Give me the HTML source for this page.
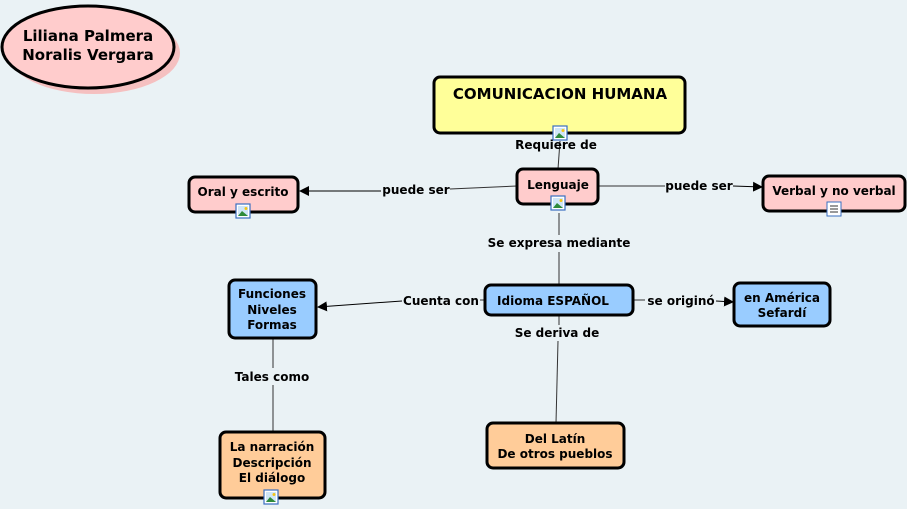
<!DOCTYPE html>
<html><head><meta charset="utf-8"><style>
html,body{margin:0;padding:0;background:#eaf2f5;}
svg{display:block;font-family:"DejaVu Sans","Liberation Sans",sans-serif;font-weight:bold;}
</style></head><body>
<svg width="907" height="509" viewBox="0 0 907 509">
<defs>
<marker id="a" markerWidth="10" markerHeight="10" refX="9" refY="5" orient="auto" markerUnits="userSpaceOnUse"><path d="M0,0 L10,5 L0,10z" fill="#000"/></marker>
<g id="ic"><rect x="0" y="0" width="14" height="14" fill="#fff" stroke="#3a6fc0" stroke-width="1.2"/><rect x="2" y="2" width="10" height="10" fill="#cfe6f7"/><path d="M2,12 L6,7 L12,12z" fill="#2e8b3a"/><circle cx="10" cy="4.5" r="1.5" fill="#f3c317"/></g>
</defs>
<rect width="907" height="509" fill="#eaf2f5"/>
<g stroke="#333" stroke-width="1" fill="none">
<line x1="560" y1="141" x2="558" y2="169"/>
<line x1="517" y1="186" x2="450" y2="189"/>
<line x1="381" y1="191" x2="300" y2="191" stroke="#000" marker-end="url(#a)"/>
<line x1="598" y1="186" x2="665" y2="186"/>
<line x1="733" y1="186" x2="762" y2="187" stroke="#000" marker-end="url(#a)"/>
<line x1="559" y1="213" x2="559" y2="235"/>
<line x1="559" y1="252" x2="559" y2="285"/>
<line x1="485" y1="300" x2="480" y2="300"/>
<line x1="402" y1="301" x2="318" y2="307" stroke="#000" marker-end="url(#a)"/>
<line x1="633" y1="300" x2="645" y2="300"/>
<line x1="716" y1="301" x2="733" y2="302" stroke="#000" marker-end="url(#a)"/>
<line x1="559" y1="316" x2="559" y2="325"/>
<line x1="558" y1="341" x2="556" y2="423"/>
<line x1="273" y1="338" x2="273" y2="368"/>
<line x1="273" y1="385" x2="273" y2="432"/>
</g>
<g stroke="#000" stroke-width="3">
<ellipse cx="94" cy="53" rx="86" ry="41" fill="#f5c0c0" stroke="none"/>
<ellipse cx="88" cy="47" rx="86" ry="41" fill="#ffcccc"/>
<rect x="434" y="77" width="251" height="56" rx="6" fill="#ffff99"/>
<rect x="517" y="169" width="81" height="35" rx="6" fill="#ffcccc"/>
<rect x="189" y="177" width="109" height="35" rx="6" fill="#ffcccc"/>
<rect x="763" y="176" width="142" height="35" rx="6" fill="#ffcccc"/>
<rect x="485" y="285" width="148" height="30" rx="6" fill="#99ccff"/>
<rect x="229" y="280" width="87" height="58" rx="6" fill="#99ccff"/>
<rect x="734" y="283" width="96" height="43" rx="6" fill="#99ccff"/>
<rect x="487" y="423" width="137" height="45" rx="6" fill="#ffcc99"/>
<rect x="220" y="432" width="105" height="66" rx="6" fill="#ffcc99"/>
</g>
<use href="#ic" x="553" y="126"/>
<use href="#ic" x="551" y="196"/>
<use href="#ic" x="236" y="204"/>
<use href="#ic" x="264" y="490"/>
<g transform="translate(827,202)"><rect width="14" height="14" fill="#fff" stroke="#3a6fc0"/><path d="M3,4h8M3,7h8M3,10h8" stroke="#333"/></g>
<g font-size="12" text-anchor="middle" fill="#000">
<text x="88" y="41" font-size="15">Liliana Palmera</text>
<text x="88" y="60" font-size="15">Noralis Vergara</text>
<text x="560" y="99" font-size="15">COMUNICACION HUMANA</text>
<text x="558" y="189">Lenguaje</text>
<text x="243" y="196">Oral y escrito</text>
<text x="834" y="195">Verbal y no verbal</text>
<text x="553" y="305">Idioma ESPAÑOL</text>
<text x="272" y="298">Funciones</text>
<text x="272" y="314">Niveles</text>
<text x="272" y="329">Formas</text>
<text x="782" y="302">en América</text>
<text x="782" y="317">Sefardí</text>
<text x="555" y="443">Del Latín</text>
<text x="555" y="458">De otros pueblos</text>
<text x="272" y="451">La narración</text>
<text x="272" y="467">Descripción</text>
<text x="272" y="482">El diálogo</text>
<text x="556" y="149">Requiere de</text>
<text x="416" y="194">puede ser</text>
<text x="699" y="190">puede ser</text>
<text x="559" y="247">Se expresa mediante</text>
<text x="441" y="305">Cuenta con</text>
<text x="681" y="305">se originó</text>
<text x="557" y="337">Se deriva de</text>
<text x="272" y="381">Tales como</text>
</g>
</svg>
</body></html>
